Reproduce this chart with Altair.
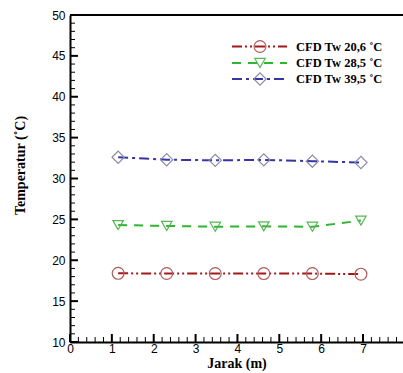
import altair as alt
import pandas as pd

# ---- data ----
x_pos = [1.15, 2.31, 3.47, 4.63, 5.79, 6.95]
red_vals = [18.4, 18.38, 18.37, 18.37, 18.37, 18.3]
green_vals = [24.3, 24.2, 24.1, 24.15, 24.1, 24.85]
blue_vals = [32.6, 32.3, 32.22, 32.28, 32.12, 31.95]
series_names = ["CFD Tw 20,6 ˚C", "CFD Tw 28,5 ˚C", "CFD Tw 39,5 ˚C"]
series_vals = [red_vals, green_vals, blue_vals]

line_colors = ["#a51818", "#2fb52f", "#3535a8"]
marker_colors = ["#b35a5a", "#55b855", "#8a8aa8"]
shapes = ["circle", "triangle-down", "diamond"]
marker_sizes = [140, 110, 150]
dashes = [[10, 3, 2, 3, 2, 3], [9, 7], [10, 4, 3, 4]]

x_major = list(range(0, 8))
x_minor = [i / 5 for i in range(0, 40) if i % 5 != 0]
y_major = list(range(10, 51, 5))
y_minor = [v for v in range(10, 51) if v % 5 != 0]

W, H = 333, 327
PX_PER_X = 41.86

xscale = alt.Scale(domain=[0, W / PX_PER_X], nice=False, zero=False)
yscale = alt.Scale(domain=[10, 50], nice=False, zero=False)

x_axis = alt.Axis(values=x_major, title="Jarak (m)", ticks=False, tickSize=0, grid=False,
                  domainColor="black", domainWidth=2, labelFont="Liberation Sans",
                  labelFontSize=12, labelColor="black", labelPadding=1, format="d",
                  labelFlush=False,
                  titleFont="Liberation Serif", titleFontWeight="bold", titleFontSize=14,
                  titleColor="black", titleY=25, titleBaseline="alphabetic")
y_axis = alt.Axis(values=y_major, title="Temperatur (˚C)", ticks=False, tickSize=0, grid=False,
                  domainColor="black", domainWidth=2, labelFont="Liberation Sans",
                  labelFontSize=12, labelColor="black", labelPadding=5, format="d",
                  labelFlush=False,
                  titleFont="Liberation Serif", titleFontWeight="bold", titleFontSize=14,
                  titleColor="black", titleX=-50, titleY=150, titleAngle=-90,
                  titleAlign="center", titleBaseline="middle")

X = alt.X("x:Q", scale=xscale, axis=x_axis)
Y = alt.Y("y:Q", scale=yscale, axis=y_axis)

layers = []

# tick marks (inward), drawn as tick marks at the tick positions
xt_major = pd.DataFrame({"x": x_major})
xt_minor = pd.DataFrame({"x": x_minor})
yt_major = pd.DataFrame({"y": y_major})
yt_minor = pd.DataFrame({"y": y_minor})

layers.append(alt.Chart(xt_major).mark_tick(color="black", thickness=2, size=8, orient="vertical",
                                            opacity=1).encode(x=X, y=alt.value(H - 4)))
layers.append(alt.Chart(xt_minor).mark_tick(color="black", thickness=1, size=5, orient="vertical",
                                            opacity=1).encode(x=X, y=alt.value(H - 2.5)))
layers.append(alt.Chart(yt_major).mark_tick(color="black", thickness=2, size=8, orient="horizontal",
                                            opacity=1).encode(y=Y, x=alt.value(4)))
layers.append(alt.Chart(yt_minor).mark_tick(color="black", thickness=1, size=5, orient="horizontal",
                                            opacity=1).encode(y=Y, x=alt.value(2.5)))

# top frame line
layers.append(alt.Chart(pd.DataFrame({"a": [0]})).mark_rule(color="black", strokeWidth=2).encode(
    x=alt.value(0), x2=alt.value(W), y=alt.value(0)))

# series
for i in range(3):
    df = pd.DataFrame({"x": x_pos, "y": series_vals[i]})
    layers.append(alt.Chart(df).mark_line(color=line_colors[i], strokeWidth=2,
                                          strokeDash=dashes[i]).encode(x=X, y=Y))
    layers.append(alt.Chart(df).mark_point(shape=shapes[i], filled=False, color=marker_colors[i],
                                           size=marker_sizes[i], strokeWidth=1.2, opacity=1).encode(x=X, y=Y))

# legend (drawn manually)
legend_rows = [31.5, 48, 64]
for i in range(3):
    ldf = pd.DataFrame({"label": [series_names[i]]})
    ly = legend_rows[i]
    layers.append(alt.Chart(ldf).mark_rule(color=line_colors[i], strokeWidth=2,
                                           strokeDash=dashes[i]).encode(
        x=alt.value(162), x2=alt.value(217), y=alt.value(ly)))
    layers.append(alt.Chart(ldf).mark_point(shape=shapes[i], filled=False, color=marker_colors[i],
                                            size=marker_sizes[i], strokeWidth=1.2, opacity=1).encode(
        x=alt.value(190), y=alt.value(ly)))
    layers.append(alt.Chart(ldf).mark_text(align="left", baseline="middle", font="Liberation Serif",
                                           fontWeight="bold", fontSize=12.5, color="black").encode(
        x=alt.value(226), y=alt.value(ly), text="label:N"))

chart = alt.layer(*layers).properties(
    width=W, height=H,
    autosize=alt.AutoSizeParams(type="none"),
    padding={"left": 70, "top": 15, "right": 0, "bottom": 31},
    background="white",
).configure_view(stroke=None)

chart.save("out.html", embed_options={"renderer": "svg", "actions": False})
